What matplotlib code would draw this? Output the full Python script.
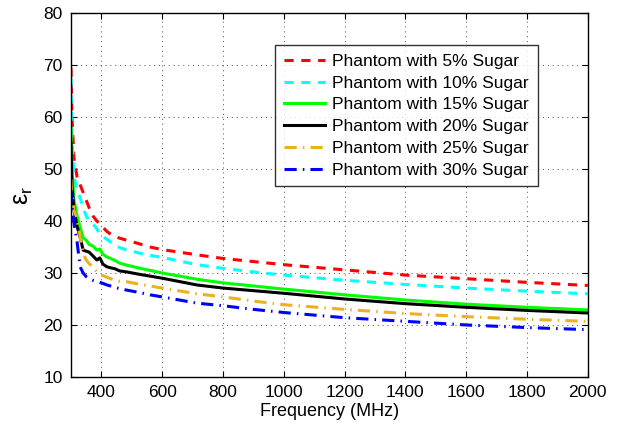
import numpy as np
import matplotlib
matplotlib.use('Agg')
import matplotlib.pyplot as plt

plt.rcParams['font.family'] = ['Liberation Sans', 'DejaVu Sans']

# Frequency (MHz) sample points
freq = [300, 303, 310, 320, 330, 340, 350, 360, 372, 385, 395, 405, 418, 430, 445,
        460, 484, 520, 560, 600, 714, 800, 900, 1000, 1200, 1400, 1600, 1800, 2000]

eps_5 = [69.5, 60.0, 52.0, 48.5, 47.0, 45.5, 44.0, 42.5, 41.0, 40.0, 39.5, 38.8, 38.0,
         37.5, 37.0, 36.7, 36.3, 35.7, 35.0, 34.5, 33.5, 32.8, 32.2, 31.6, 30.6, 29.6,
         28.9, 28.2, 27.6]
eps_10 = [67.5, 56.0, 48.5, 46.0, 44.5, 42.5, 41.0, 40.0, 39.5, 38.5, 37.5, 37.0, 36.5,
          36.0, 35.3, 34.9, 34.4, 33.9, 33.4, 33.0, 31.6, 30.9, 30.2, 29.6, 28.6, 27.8,
          27.1, 26.5, 26.0]
eps_15 = [58.0, 50.0, 44.0, 41.0, 38.8, 36.8, 36.3, 35.5, 35.2, 34.4, 34.6, 33.6, 33.1,
          32.8, 32.4, 31.9, 31.5, 31.0, 30.5, 30.0, 28.8, 28.1, 27.5, 26.9, 25.8, 24.8,
          24.0, 23.4, 22.9]
eps_20 = [55.0, 47.0, 42.0, 39.0, 36.9, 34.4, 34.2, 34.0, 33.3, 32.5, 32.9, 31.7, 31.2,
          31.0, 30.8, 30.4, 30.2, 29.8, 29.4, 29.0, 27.7, 27.1, 26.6, 26.1, 25.0, 24.1,
          23.4, 22.8, 22.3]
eps_25 = [48.0, 45.0, 42.0, 40.2, 37.0, 33.8, 32.5, 31.8, 31.2, 30.2, 29.7, 29.5, 29.2,
          28.9, 28.6, 28.4, 28.3, 27.9, 27.5, 27.1, 26.0, 25.4, 24.6, 23.9, 23.0, 22.2,
          21.6, 21.1, 20.7]
eps_30 = [46.0, 43.0, 39.5, 36.0, 31.2, 30.0, 29.3, 28.9, 28.6, 28.4, 28.2, 28.0, 27.7,
          27.5, 27.2, 27.0, 26.7, 26.3, 25.8, 25.4, 24.2, 23.7, 23.0, 22.4, 21.4, 20.7,
          20.0, 19.5, 19.1]

labels = ['Phantom with 5% Sugar', 'Phantom with 10% Sugar', 'Phantom with 15% Sugar',
          'Phantom with 20% Sugar', 'Phantom with 25% Sugar', 'Phantom with 30% Sugar']

fig = plt.figure(figsize=(6.2, 4.24), dpi=100)
ax = fig.add_axes([0.1145, 0.111, 0.8335, 0.858])

ax.plot(freq, eps_5, color='#FF0000', ls=(0, (3, 2.5)), lw=2.2, label=labels[0])
ax.plot(freq, eps_10, color='#00FFFF', ls=(0, (3, 2.5)), lw=2.2, label=labels[1])
ax.plot(freq, eps_15, color='#00FF00', ls='-', lw=2.2, label=labels[2])
ax.plot(freq, eps_20, color='#000000', ls='-', lw=2.2, label=labels[3])
ax.plot(freq, eps_25, color='#EDB120', ls=(0, (4, 2, 0.5, 2)), lw=2.2, label=labels[4])
ax.plot(freq, eps_30, color='#0000FF', ls=(0, (4, 2, 0.5, 2)), lw=2.2, label=labels[5])

ax.set_xlim(300, 2000)
ax.set_ylim(10, 80)
ax.set_xticks(np.arange(400, 2001, 200))
ax.set_yticks(np.arange(10, 81, 10))
ax.grid(True, ls=(0, (1, 4)), color='black', lw=0.7, alpha=0.7)
ax.tick_params(direction='in', top=True, right=True, labelsize=12.5, length=4, pad=6)
for s in ax.spines.values():
    s.set_linewidth(1.0)

ax.set_xlabel('Frequency (MHz)', fontsize=13, labelpad=2)
ax.set_ylabel(r'$\mathregular{\varepsilon_r}$', fontsize=18, labelpad=6)

leg = ax.legend(loc='upper left', bbox_to_anchor=(0.395, 0.912), borderaxespad=0,
                fontsize=12.5, frameon=True, fancybox=False, edgecolor='black',
                handlelength=2.4, labelspacing=0.38, borderpad=0.5, handletextpad=0.4)
leg.get_frame().set_linewidth(1.0)

fig.savefig('out.png', dpi=100)
